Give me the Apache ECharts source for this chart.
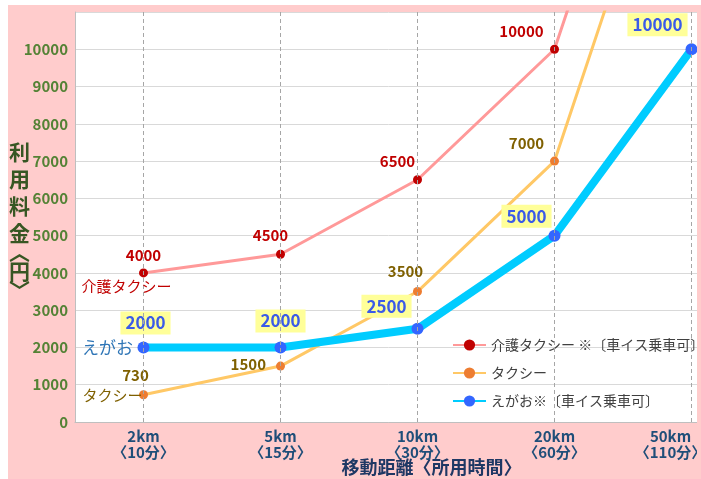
<!DOCTYPE html>
<html>
<head>
<meta charset="utf-8">
<script src="https://cdn.jsdelivr.net/npm/echarts@6/dist/echarts.min.js"></script>
<style>
  html, body { margin: 0; padding: 0; background: #fff; }
  #chart { width: 701px; height: 479px; }
</style>
</head>
<body>
<div id="chart"></div>
<script>
// 距離（所用時間）
var categories = ['2km\n〈10分〉', '5km\n〈15分〉', '10km\n〈30分〉', '20km\n〈60分〉', '50km\n〈110分〉'];
// 料金（円）
var kaigoTaxi = [4000, 4500, 6500, 10000, 21000];
var taxi = [730, 1500, 3500, 7000, 18000];
var egao = [2000, 2000, 2500, 5000, 10000];
var yMin = 0, yMax = 11000, yStep = 1000;

var FONT = 'Noto Sans CJK JP';

// ラベルのずらし量（見た目用）
var kaigoOffsets = [[0, 0], [-10, -1], [-20, 0], [-33, 0]];
var taxiOffsets = [[-8, -1], null, [-12, -2], [-28, 0]];
var egaoOffsets = [[2, -2], [0, -4], [-31, 0], [-28, 3], [-34, -2]];

function buildData(values, offsets, extra) {
    var out = [];
    for (var i = 0; i < values.length; i++) {
        var item = { value: values[i] };
        if (i < offsets.length && offsets[i]) {
            item.label = { offset: offsets[i] };
        } else if (i < offsets.length && extra && extra[i]) {
            item.label = extra[i];
        } else if (i >= offsets.length) {
            item.label = { show: false };
        }
        out.push(item);
    }
    return out;
}

var myChart = echarts.init(document.getElementById('chart'));

var option = {
    animation: false,
    backgroundColor: '#FFCCCC',
    textStyle: { fontFamily: FONT },
    graphic: [
        { type: 'rect', left: 0, top: 0, shape: { width: 8, height: 479 }, style: { fill: '#fff' }, z: 100 },
        { type: 'rect', left: 0, top: 0, shape: { width: 701, height: 5 }, style: { fill: '#fff' }, z: 100 },
        { type: 'rect', left: 697, top: 5, shape: { width: 4, height: 474 }, style: { fill: '#FFCCCC' }, z: 100 }
    ],
    grid: {
        left: 75,
        top: 12,
        bottom: 57,
        width: 685,
        containLabel: false,
        outerBoundsMode: 'none',
        show: true,
        backgroundColor: '#fff',
        borderWidth: 0
    },
    legend: {
        orient: 'vertical',
        left: 447,
        top: 333,
        itemWidth: 33,
        itemHeight: 14,
        itemGap: 14,
        textStyle: { color: '#404040', fontSize: 14, fontFamily: FONT },
        data: ['介護タクシー ※〔車イス乗車可〕', 'タクシー', 'えがお※〔車イス乗車可〕']
    },
    xAxis: {
        type: 'category',
        data: categories,
        boundaryGap: true,
        name: '移動距離〈所用時間〉',
        nameLocation: 'middle',
        nameGap: 36,
        nameMoveOverlap: false,
        nameTextStyle: { color: '#1F3864', fontSize: 18, fontWeight: 'bold', fontFamily: FONT, padding: [0, 0, 0, 28] },
        axisLine: { show: true, lineStyle: { color: '#BFBFBF' } },
        axisTick: { show: false },
        splitLine: { show: false },
        axisLabel: {
            interval: 0,
            margin: 6,
            color: '#1F4E79',
            fontSize: 15,
            fontWeight: 'bold',
            lineHeight: 16,
            fontFamily: FONT,
            formatter: function (v, i) {
                if (i === categories.length - 1) {
                    return v.split('\n').map(function (s) { return '{r|' + s + '}'; }).join('\n');
                }
                return v;
            },
            rich: {
                r: { color: '#1F4E79', fontSize: 15, fontWeight: 'bold', lineHeight: 16, fontFamily: FONT, padding: [0, 42, 0, 0] }
            }
        }
    },
    yAxis: {
        type: 'value',
        min: yMin,
        max: yMax,
        interval: yStep,
        name: '{a|利}\n{a|用}\n{a|料}\n{a|金}\n{b|︿}\n{a|円}\n{b|﹀}',
        nameLocation: 'middle',
        nameRotate: 0,
        nameGap: 45,
        nameMoveOverlap: false,
        nameTextStyle: {
            rich: {
                a: { color: '#375623', fontSize: 21, fontWeight: 'bold', lineHeight: 27, fontFamily: FONT },
                b: { color: '#375623', fontSize: 21, fontWeight: 'bold', lineHeight: 11, fontFamily: FONT }
            }
        },
        axisLine: { show: true, lineStyle: { color: '#BFBFBF' } },
        axisTick: { show: false },
        splitLine: { show: true, lineStyle: { color: '#D9D9D9', width: 1 } },
        axisLabel: {
            showMaxLabel: false,
            margin: 7,
            color: '#548235',
            fontSize: 15,
            fontWeight: 'bold',
            fontFamily: FONT,
            formatter: function (v) { return String(v); }
        }
    },
    series: [
        {
            name: '介護タクシー ※〔車イス乗車可〕',
            type: 'line',
            data: buildData(kaigoTaxi, kaigoOffsets),
            symbol: 'circle',
            symbolSize: 9,
            lineStyle: { color: '#FF9999', width: 3 },
            itemStyle: { color: '#C00000' },
            label: {
                show: true,
                position: 'top',
                distance: 6,
                color: '#C00000',
                fontSize: 15,
                fontWeight: 'bold',
                fontFamily: FONT
            },
            markLine: {
                silent: true,
                symbol: ['none', 'none'],
                label: { show: false },
                lineStyle: { color: '#A6A6A6', type: [4, 3], width: 1 },
                data: categories.map(function (c) { return { xAxis: c }; })
            },
            markPoint: {
                silent: true,
                symbol: 'circle',
                symbolSize: 1,
                itemStyle: { color: 'transparent' },
                label: { show: true, position: 'inside', offset: [-17, 13], color: '#C00000', fontSize: 15, fontFamily: FONT, formatter: '介護タクシー' },
                data: [{ coord: [categories[0], kaigoTaxi[0]] }]
            }
        },
        {
            name: 'タクシー',
            type: 'line',
            data: buildData(taxi, taxiOffsets, [null, { position: 'left', distance: 10, offset: [0, -2] }]),
            symbol: 'circle',
            symbolSize: 9,
            lineStyle: { color: '#FFC866', width: 3 },
            itemStyle: { color: '#ED7D31' },
            label: {
                show: true,
                position: 'top',
                distance: 6,
                color: '#7F6000',
                fontSize: 15,
                fontWeight: 'bold',
                fontFamily: FONT
            },
            markPoint: {
                silent: true,
                symbol: 'circle',
                symbolSize: 1,
                itemStyle: { color: 'transparent' },
                label: { show: true, position: 'inside', offset: [-31, 1], color: '#7F6000', fontSize: 15, fontFamily: FONT, formatter: 'タクシー' },
                data: [{ coord: [categories[0], taxi[0]] }]
            }
        },
        {
            name: 'えがお※〔車イス乗車可〕',
            type: 'line',
            data: buildData(egao, egaoOffsets),
            symbol: 'circle',
            symbolSize: 12,
            lineStyle: { color: '#00CCFF', width: 8 },
            itemStyle: { color: '#3366FF' },
            label: {
                show: true,
                position: 'top',
                distance: 5,
                color: '#3B5BE8',
                fontSize: 17,
                fontWeight: 'bold',
                fontFamily: FONT,
                backgroundColor: '#FFFF99',
                padding: [3, 5, 3, 5]
            },
            markPoint: {
                silent: true,
                symbol: 'circle',
                symbolSize: 1,
                itemStyle: { color: 'transparent' },
                label: { show: true, position: 'inside', offset: [-36, 0], color: '#2E75B6', fontSize: 17, fontFamily: FONT, formatter: 'えがお' },
                data: [{ coord: [categories[0], egao[0]] }]
            }
        }
    ]
};

myChart.setOption(option);
</script>
</body>
</html>
